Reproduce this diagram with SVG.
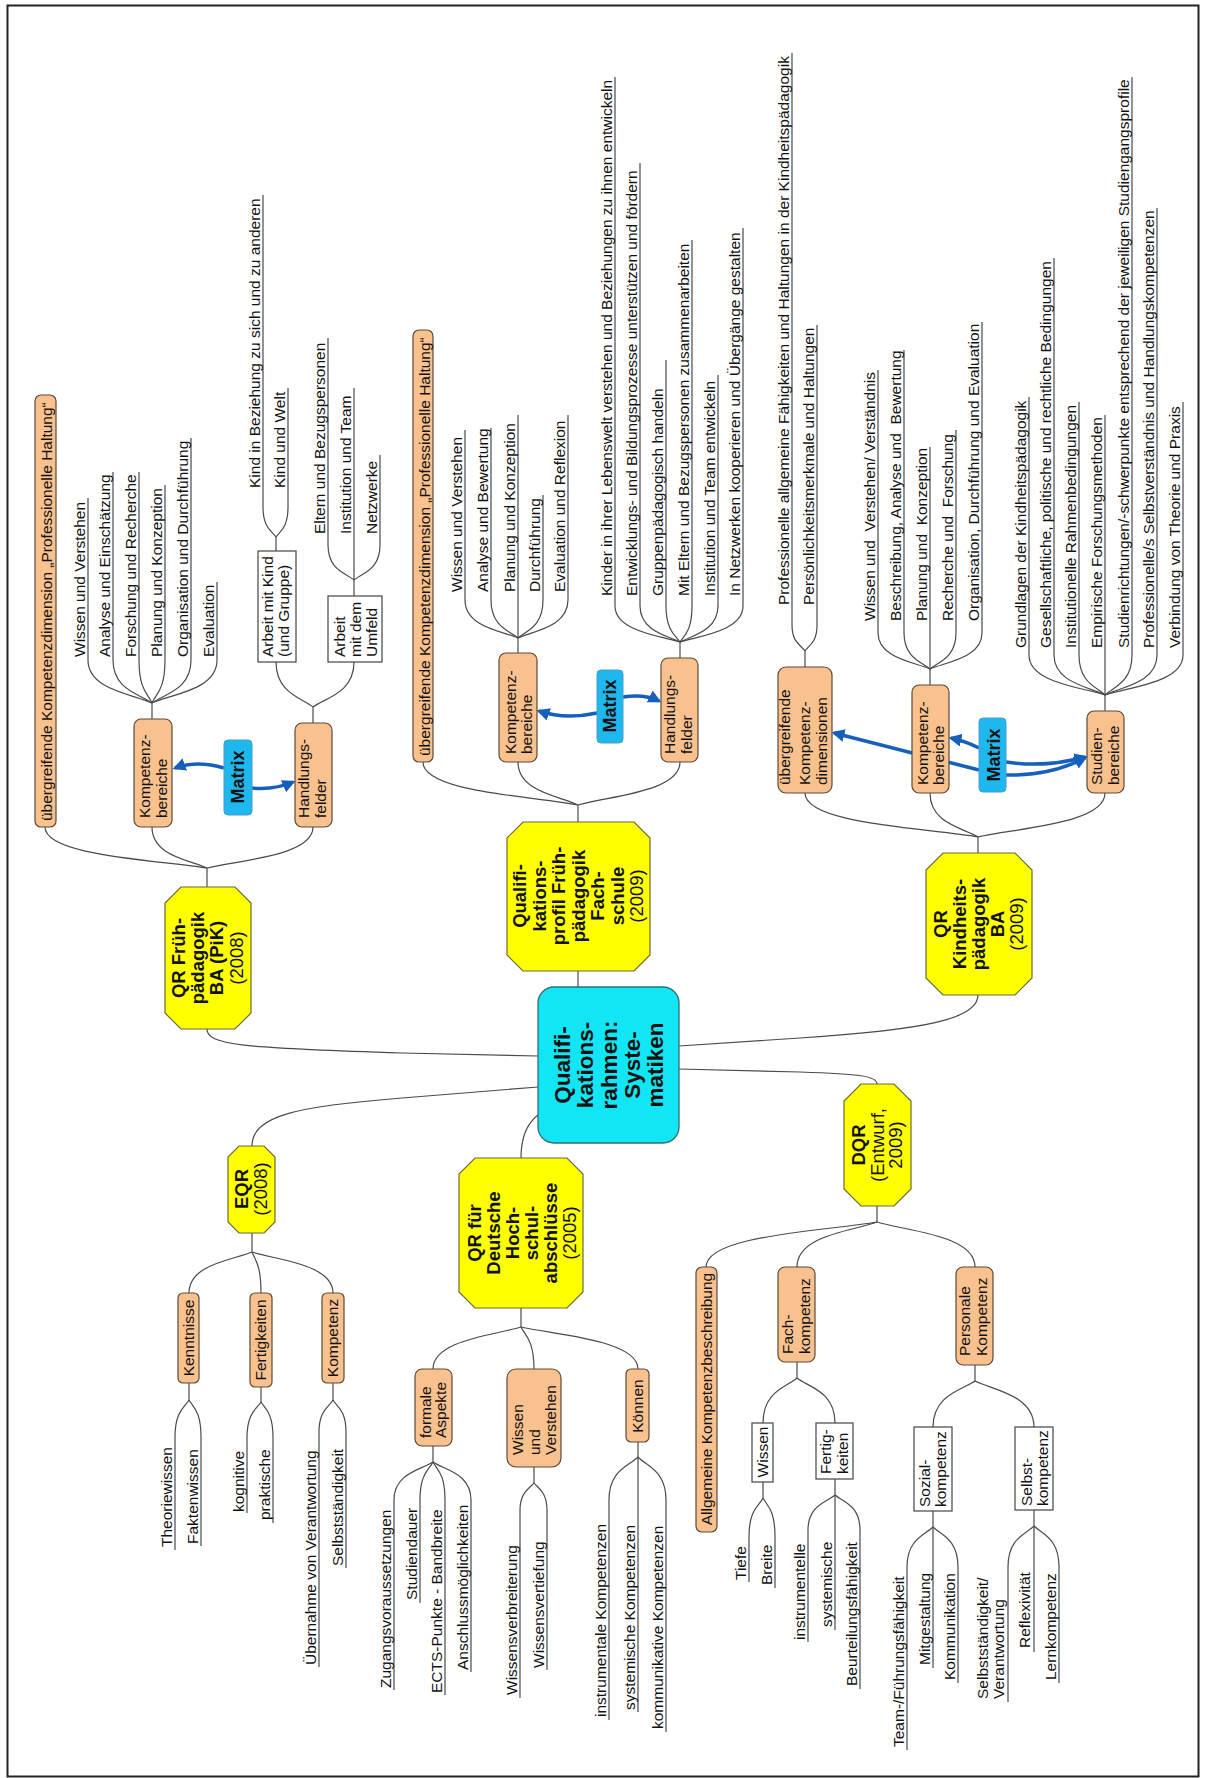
<svg xmlns="http://www.w3.org/2000/svg" width="1205" height="1778" viewBox="0 0 1205 1778">
<style>
text{font-family:"Liberation Sans",Arial,Helvetica,sans-serif;fill:#111}
.t{font-size:15.5px}
.b{font-size:18.5px;font-weight:bold}
.y{font-size:18.5px}
.cb{font-size:22.5px;font-weight:bold}
.mt{font-size:18px;font-weight:bold}
.ln{fill:none;stroke:#4a4a4a;stroke-width:1.2}
.or{fill:#F9C18D;stroke:#5c4a38;stroke-width:1.2}
.oct{fill:#FFFF00;stroke:#6b6b3a;stroke-width:1.2}
.wb{fill:#fff;stroke:#444;stroke-width:1.2}
.mx{fill:#1EB7EE;stroke:#4a9cc9;stroke-width:1}
.ar{fill:none;stroke:#1560BD;stroke-width:3.5;marker-end:url(#ah)}
</style>
<defs>
<marker id="ah" viewBox="0 0 10 10" refX="8" refY="5" markerWidth="13" markerHeight="13" markerUnits="userSpaceOnUse" orient="auto"><path d="M0,0 L10,5 L0,10 z" fill="#1560BD"/></marker>
</defs>
<rect x="0" y="0" width="1205" height="1778" fill="#fff"/>
<rect x="7.5" y="5.5" width="1191" height="1771" fill="none" stroke="#222" stroke-width="2"/>

<g id="connectors" class="ln">
<path d="M207,1029 C207,1045 240,1048 402,1053 L538,1056"/>
<path d="M538,1087 L402,1098 C300,1106 252,1115 252,1146"/>
<path d="M538,1115 C525,1125 521,1140 521,1158"/>
<path d="M578,971 L578,987"/>
<path d="M679,1046 L800,1038 C920,1030 978,1020 978,995"/>
<path d="M679,1069 L800,1072 C860,1074 877,1076 877,1084"/>
<!-- group 1 -->
<path d="M207,887 L207,868"/>
<path d="M45,827 C45,856 158,860 207,868"/>
<path d="M152,827 C152,856 190,860 207,868"/>
<path d="M313,827 C313,856 239,860 207,868"/>
<path d="M152,719 L152,703"/>
<path d="M88,498 L88,660 C88,690 133,694 152,703"/>
<path d="M113,472 L113,660 C113,690 140,694 152,703"/>
<path d="M139,472 L139,660 C139,690 148,694 152,703"/>
<path d="M165,485 L165,660 C165,690 156,694 152,703"/>
<path d="M191,438 L191,660 C191,690 164,694 152,703"/>
<path d="M217,582 L217,660 C217,690 172,694 152,703"/>
<path d="M313,723 L313,707"/>
<path d="M276,662 C276,693 302,698 313,707"/>
<path d="M354,662 C354,693 325,698 313,707"/>
<path d="M276,551 L276,537"/>
<path d="M263,195 L263,507 C263,528 272,531 276,537"/>
<path d="M288,388 L288,507 C288,528 280,531 276,537"/>
<path d="M354,596 L354,580"/>
<path d="M328,338 L328,545 C328,570 346,573 354,580"/>
<path d="M354,388 L354,580"/>
<path d="M380,455 L380,545 C380,570 362,573 354,580"/>
<!-- group 2 -->
<path d="M578,822 L578,805"/>
<path d="M423,762 C423,792 531,796 578,805"/>
<path d="M518,762 C518,792 560,796 578,805"/>
<path d="M680,762 C680,792 609,796 578,805"/>
<path d="M518,653 L518,638"/>
<path d="M465,430 L465,600 C465,627 502,631 518,638"/>
<path d="M491,428 L491,600 C491,627 510,631 518,638"/>
<path d="M518,415 L518,638"/>
<path d="M543,495 L543,600 C543,627 526,631 518,638"/>
<path d="M568,415 L568,600 C568,627 533,631 518,638"/>
<path d="M680,658 L680,642"/>
<path d="M615,77 L615,606 C615,631 660,636 680,642"/>
<path d="M640,163 L640,606 C640,631 668,636 680,642"/>
<path d="M666,360 L666,606 C666,631 676,636 680,642"/>
<path d="M692,240 L692,606 C692,631 684,636 680,642"/>
<path d="M718,375 L718,606 C718,631 691,636 680,642"/>
<path d="M743,228 L743,606 C743,631 699,636 680,642"/>
<!-- group 3 -->
<path d="M978,853 L978,837"/>
<path d="M805,793 C805,824 926,828 978,837"/>
<path d="M930,793 C930,824 964,828 978,837"/>
<path d="M1105,793 C1105,824 1016,828 978,837"/>
<path d="M805,667 L805,651"/>
<path d="M792,53 L792,625 C792,643 801,645 805,651"/>
<path d="M817,325 L817,625 C817,643 809,645 805,651"/>
<path d="M930,685 L930,669"/>
<path d="M878,370 L878,633 C878,658 914,662 930,669"/>
<path d="M904,350 L904,633 C904,658 922,662 930,669"/>
<path d="M930,447 L930,669"/>
<path d="M956,430 L956,633 C956,658 938,662 930,669"/>
<path d="M982,322 L982,633 C982,658 946,662 930,669"/>
<path d="M1105,711 L1105,695"/>
<path d="M1029,397 L1029,655 C1029,683 1082,687 1105,695"/>
<path d="M1054,258 L1054,655 C1054,683 1090,687 1105,695"/>
<path d="M1079,402 L1079,655 C1079,683 1097,687 1105,695"/>
<path d="M1105,415 L1105,695"/>
<path d="M1132,77 L1132,655 C1132,683 1113,687 1105,695"/>
<path d="M1157,208 L1157,655 C1157,683 1121,687 1105,695"/>
<path d="M1183,402 L1183,655 C1183,683 1128,687 1105,695"/>
<!-- EQR -->
<path d="M252,1233 L252,1252"/>
<path d="M252,1252 C233,1260 189,1264 189,1293"/>
<path d="M252,1252 C255,1260 261,1264 261,1293"/>
<path d="M252,1252 C276,1260 333,1264 333,1293"/>
<path d="M189,1383 L189,1400"/>
<path d="M189,1400 C185,1407 175,1411 175,1437 L175,1550"/>
<path d="M189,1400 C193,1407 201,1411 201,1437 L201,1546"/>
<path d="M261,1387 L261,1402"/>
<path d="M261,1402 C257,1409 247,1412 247,1438 L247,1513"/>
<path d="M261,1402 C265,1409 273,1412 273,1438 L273,1523"/>
<path d="M333,1383 L333,1400"/>
<path d="M333,1400 C329,1407 319,1410 319,1432 L319,1667"/>
<path d="M333,1400 C337,1407 346,1410 346,1432 L346,1568"/>
<!-- QR Deutsche -->
<path d="M521,1308 L521,1327"/>
<path d="M521,1327 C495,1335 433,1340 433,1369"/>
<path d="M521,1327 C525,1335 534,1340 534,1369"/>
<path d="M521,1327 C556,1335 638,1340 638,1369"/>
<path d="M433,1446 L433,1462"/>
<path d="M433,1462 C421,1470 394,1473 394,1500 L394,1690"/>
<path d="M433,1462 C429,1470 420,1473 420,1500 L420,1603"/>
<path d="M433,1462 C437,1470 445,1473 445,1500 L445,1695"/>
<path d="M433,1462 C444,1470 471,1473 471,1500 L471,1672"/>
<path d="M534,1467 L534,1483"/>
<path d="M534,1483 C530,1488 520,1492 520,1510 L520,1698"/>
<path d="M534,1483 C538,1488 547,1492 547,1510 L547,1670"/>
<path d="M638,1442 L638,1457"/>
<path d="M638,1457 C629,1466 609,1470 609,1500 L609,1720"/>
<path d="M638,1457 L638,1712"/>
<path d="M638,1457 C646,1466 666,1470 666,1500 L666,1732"/>
<!-- DQR -->
<path d="M877,1206 L877,1222"/>
<path d="M877,1222 C826,1231 706,1235 706,1267"/>
<path d="M877,1222 C853,1231 797,1235 797,1267"/>
<path d="M877,1222 C906,1231 975,1235 975,1267"/>
<path d="M797,1362 L797,1378"/>
<path d="M797,1378 C787,1387 763,1391 763,1423"/>
<path d="M797,1378 C808,1387 835,1391 835,1423"/>
<path d="M763,1482 L763,1498"/>
<path d="M763,1498 C759,1506 749,1509 749,1537 L749,1582"/>
<path d="M763,1498 C767,1506 775,1509 775,1537 L775,1588"/>
<path d="M835,1479 L835,1495"/>
<path d="M835,1495 C827,1502 808,1505 808,1530 L808,1642"/>
<path d="M835,1495 L835,1630"/>
<path d="M835,1495 C843,1502 860,1505 860,1530 L860,1689"/>
<path d="M975,1365 L975,1381"/>
<path d="M975,1381 C962,1390 933,1395 933,1427"/>
<path d="M975,1381 C993,1390 1034,1395 1034,1427"/>
<path d="M933,1511 L933,1527"/>
<path d="M933,1527 C925,1535 907,1539 907,1567 L907,1750"/>
<path d="M933,1527 L933,1668"/>
<path d="M933,1527 C941,1535 958,1539 958,1567 L958,1683"/>
<path d="M1034,1510 L1034,1526"/>
<path d="M1034,1526 C1026,1534 1008,1538 1008,1567 L1008,1702"/>
<path d="M1034,1526 L1034,1652"/>
<path d="M1034,1526 C1042,1534 1059,1538 1059,1567 L1059,1683"/>
<!-- matrix arrows -->
<path class="ar" d="M224,768 Q197,760 175,768"/>
<path class="ar" d="M252,788 Q275,790 293,782"/>
<path class="ar" d="M597,713 Q565,720 539,711"/>
<path class="ar" d="M623,697 Q645,694 659,701"/>
<path class="ar" d="M979,748 Q965,741 951,738"/>
<path class="ar" d="M979,770 L834,733"/>
<path class="ar" d="M1006,762 Q1045,768 1085,757"/>
<path class="ar" d="M1006,775 Q1050,776 1085,758"/>
</g>

<!-- center -->
<g id="center">
<rect x="538" y="987" width="141" height="156" rx="16" fill="#12E6F4" stroke="#2f6f78" stroke-width="1.3"/>
<g transform="translate(0,1065) rotate(-90)"><text class="cb" text-anchor="middle"><tspan x="0" y="570">Qualifi-</tspan><tspan x="0" y="593">kations-</tspan><tspan x="0" y="617">rahmen:</tspan><tspan x="0" y="640">Syste-</tspan><tspan x="0" y="663">matiken</tspan></text></g>
</g>

<!-- octagons -->
<g id="qr-fruehpaed">
<polygon class="oct" points="181,887 235,887 251,903 251,1013 235,1029 181,1029 165,1013 165,903"/>
<g transform="translate(0,958) rotate(-90)"><text text-anchor="middle"><tspan class="b" x="0" y="185">QR Früh-</tspan><tspan class="b" x="0" y="204">pädagogik</tspan><tspan class="b" x="0" y="223">BA (PiK)</tspan><tspan class="y" x="0" y="243">(2008)</tspan></text></g>
</g>
<g id="qualiprofil">
<polygon class="oct" points="523,822 634,822 650,838 650,955 634,971 523,971 507,955 507,838"/>
<g transform="translate(0,896) rotate(-90)"><text text-anchor="middle"><tspan class="b" x="0" y="526">Qualifi-</tspan><tspan class="b" x="0" y="545.5">kations-</tspan><tspan class="b" x="0" y="565">profil Früh-</tspan><tspan class="b" x="0" y="584.5">pädagogik</tspan><tspan class="b" x="0" y="604">Fach-</tspan><tspan class="b" x="0" y="623.5">schule</tspan><tspan class="y" x="0" y="643">(2009)</tspan></text></g>
</g>
<g id="qr-kindheit">
<polygon class="oct" points="943,853 1015,853 1032,870 1032,978 1015,995 943,995 926,978 926,870"/>
<g transform="translate(0,924) rotate(-90)"><text text-anchor="middle"><tspan class="b" x="0" y="947">QR</tspan><tspan class="b" x="0" y="966">Kindheits-</tspan><tspan class="b" x="0" y="985">pädagogik</tspan><tspan class="b" x="0" y="1004">BA</tspan><tspan class="y" x="0" y="1023">(2009)</tspan></text></g>
</g>
<g id="eqr">
<polygon class="oct" points="239,1146 264,1146 275,1157 275,1222 264,1233 239,1233 228,1222 228,1157"/>
<g transform="translate(0,1189) rotate(-90)"><text text-anchor="middle"><tspan class="b" x="0" y="248">EQR</tspan><tspan class="y" x="0" y="267">(2008)</tspan></text></g>
</g>
<g id="qr-hochschule">
<polygon class="oct" points="475,1158 567,1158 583,1174 583,1292 567,1308 475,1308 459,1292 459,1174"/>
<g transform="translate(0,1233) rotate(-90)"><text text-anchor="middle"><tspan class="b" x="0" y="481">QR für</tspan><tspan class="b" x="0" y="500">Deutsche</tspan><tspan class="b" x="0" y="519">Hoch-</tspan><tspan class="b" x="0" y="538">schul-</tspan><tspan class="b" x="0" y="557">abschlüsse</tspan><tspan class="y" x="0" y="576">(2005)</tspan></text></g>
</g>
<g id="dqr">
<polygon class="oct" points="861,1084 894,1084 911,1101 911,1189 894,1206 861,1206 844,1189 844,1101"/>
<g transform="translate(0,1145) rotate(-90)"><text text-anchor="middle"><tspan class="b" x="0" y="865">DQR</tspan><tspan class="y" x="0" y="884">(Entwurf,</tspan><tspan class="y" x="0" y="902">2009)</tspan></text></g>
</g>

<!-- group 1 nodes -->
<g id="g1-uebergreifend">
<rect class="or" x="35" y="395" width="21" height="432" rx="6"/>
<text class="t" transform="translate(52,821) rotate(-90)">übergreifende Kompetenzdimension „Professionelle Haltung“</text>
</g>
<g id="g1-kompetenz">
<rect class="or" x="134" y="719" width="38" height="108" rx="7"/>
<g transform="translate(0,818) rotate(-90)"><text class="t"><tspan x="0" y="150">Kompetenz-</tspan><tspan x="0" y="167">bereiche</tspan></text></g>
</g>
<g id="g1-handlung">
<rect class="or" x="295" y="723" width="37" height="104" rx="7"/>
<g transform="translate(0,818) rotate(-90)"><text class="t"><tspan x="0" y="309">Handlungs-</tspan><tspan x="0" y="326">felder</tspan></text></g>
</g>
<g id="g1-matrix">
<rect class="mx" x="224" y="740" width="28" height="75" rx="4"/>
<text class="mt" text-anchor="middle" transform="translate(244,777) rotate(-90)">Matrix</text>
</g>
<g id="g1-arbeit-kind">
<rect class="wb" x="258" y="551" width="38" height="111"/>
<g transform="translate(0,657) rotate(-90)"><text class="t"><tspan x="0" y="273">Arbeit mit Kind</tspan><tspan x="0" y="289">(und Gruppe)</tspan></text></g>
</g>
<g id="g1-arbeit-umfeld">
<rect class="wb" x="328" y="596" width="54" height="66"/>
<g transform="translate(0,657) rotate(-90)"><text class="t"><tspan x="0" y="345">Arbeit</tspan><tspan x="0" y="361">mit dem</tspan><tspan x="0" y="377">Umfeld</tspan></text></g>
</g>
<g id="g1-leaves" class="t">
<text class="t" transform="translate(85,657) rotate(-90)">Wissen und Verstehen</text>
<text class="t" transform="translate(110,657) rotate(-90)">Analyse und Einschätzung</text>
<text class="t" transform="translate(136,657) rotate(-90)">Forschung und Recherche</text>
<text class="t" transform="translate(162,657) rotate(-90)">Planung und Konzeption</text>
<text class="t" transform="translate(188,657) rotate(-90)">Organisation und Durchführung</text>
<text class="t" transform="translate(214,657) rotate(-90)">Evaluation</text>
<text class="t" transform="translate(260,488) rotate(-90)">Kind in Beziehung zu sich und zu anderen</text>
<text class="t" transform="translate(285,488) rotate(-90)">Kind und Welt</text>
<text class="t" transform="translate(325,534) rotate(-90)">Eltern und Bezugspersonen</text>
<text class="t" transform="translate(351,534) rotate(-90)">Institution und Team</text>
<text class="t" transform="translate(377,534) rotate(-90)">Netzwerke</text>
</g>

<!-- group 2 nodes -->
<g id="g2-uebergreifend">
<rect class="or" x="413" y="330" width="20" height="432" rx="6"/>
<text class="t" transform="translate(430,756) rotate(-90)">übergreifende Kompetenzdimension „Professionelle Haltung“</text>
</g>
<g id="g2-kompetenz">
<rect class="or" x="499" y="653" width="38" height="109" rx="7"/>
<g transform="translate(0,754) rotate(-90)"><text class="t"><tspan x="0" y="516">Kompetenz-</tspan><tspan x="0" y="532">bereiche</tspan></text></g>
</g>
<g id="g2-handlung">
<rect class="or" x="661" y="658" width="37" height="104" rx="7"/>
<g transform="translate(0,754) rotate(-90)"><text class="t"><tspan x="0" y="675">Handlungs-</tspan><tspan x="0" y="692">felder</tspan></text></g>
</g>
<g id="g2-matrix">
<rect class="mx" x="597" y="670" width="26" height="73" rx="4"/>
<text class="mt" text-anchor="middle" transform="translate(616,706) rotate(-90)">Matrix</text>
</g>
<g id="g2-leaves">
<text class="t" transform="translate(462,592) rotate(-90)">Wissen und Verstehen</text>
<text class="t" transform="translate(488,592) rotate(-90)">Analyse und Bewertung</text>
<text class="t" transform="translate(515,592) rotate(-90)">Planung und Konzeption</text>
<text class="t" transform="translate(540,592) rotate(-90)">Durchführung</text>
<text class="t" transform="translate(565,592) rotate(-90)">Evaluation und Reflexion</text>
<text class="t" transform="translate(612,596) rotate(-90)">Kinder in ihrer Lebenswelt verstehen und Beziehungen zu ihnen entwickeln</text>
<text class="t" transform="translate(637,596) rotate(-90)">Entwicklungs- und Bildungsprozesse unterstützen und fördern</text>
<text class="t" transform="translate(663,596) rotate(-90)">Gruppenpädagogisch handeln</text>
<text class="t" transform="translate(689,596) rotate(-90)">Mit Eltern und Bezugspersonen zusammenarbeiten</text>
<text class="t" transform="translate(715,596) rotate(-90)">Institution und Team entwickeln</text>
<text class="t" transform="translate(740,596) rotate(-90)">In Netzwerken kooperieren und Übergänge gestalten</text>
</g>

<!-- group 3 nodes -->
<g id="g3-uebergreifend">
<rect class="or" x="778" y="667" width="54" height="126" rx="8"/>
<g transform="translate(0,785) rotate(-90)"><text class="t"><tspan x="0" y="790">übergreifende</tspan><tspan x="0" y="810">Kompetenz-</tspan><tspan x="0" y="827">dimensionen</tspan></text></g>
</g>
<g id="g3-kompetenz">
<rect class="or" x="912" y="685" width="37" height="108" rx="7"/>
<g transform="translate(0,785) rotate(-90)"><text class="t"><tspan x="0" y="928">Kompetenz-</tspan><tspan x="0" y="944">bereiche</tspan></text></g>
</g>
<g id="g3-studien">
<rect class="or" x="1087" y="711" width="37" height="82" rx="7"/>
<g transform="translate(0,785) rotate(-90)"><text class="t"><tspan x="0" y="1102">Studien-</tspan><tspan x="0" y="1119">bereiche</tspan></text></g>
</g>
<g id="g3-matrix">
<rect class="mx" x="979" y="718" width="27" height="74" rx="4"/>
<text class="mt" text-anchor="middle" transform="translate(1000,755) rotate(-90)">Matrix</text>
</g>
<g id="g3-leaves">
<text class="t" transform="translate(789,605) rotate(-90)">Professionelle allgemeine Fähigkeiten und Haltungen in der Kindheitspädagogik</text>
<text class="t" transform="translate(814,605) rotate(-90)">Persönlichkeitsmerkmale und Haltungen</text>
<text class="t" transform="translate(875,621) rotate(-90)">Wissen und&#160; Verstehen/ Verständnis</text>
<text class="t" transform="translate(901,621) rotate(-90)">Beschreibung, Analyse und&#160; Bewertung</text>
<text class="t" transform="translate(927,621) rotate(-90)">Planung und&#160; Konzeption</text>
<text class="t" transform="translate(953,621) rotate(-90)">Recherche und&#160; Forschung</text>
<text class="t" transform="translate(979,621) rotate(-90)">Organisation, Durchführung und Evaluation</text>
<text class="t" transform="translate(1026,648) rotate(-90)">Grundlagen der Kindheitspädagogik</text>
<text class="t" transform="translate(1051,648) rotate(-90)">Gesellschaftliche, politische und rechtliche Bedingungen</text>
<text class="t" transform="translate(1076,648) rotate(-90)">Institutionelle Rahmenbedingungen</text>
<text class="t" transform="translate(1102,648) rotate(-90)">Empirische Forschungsmethoden</text>
<text class="t" transform="translate(1129,648) rotate(-90)">Studienrichtungen/-schwerpunkte entsprechend der jeweiligen Studiengangsprofile</text>
<text class="t" transform="translate(1154,648) rotate(-90)">Professionelle/s Selbstverständnis und Handlungskompetenzen</text>
<text class="t" transform="translate(1180,648) rotate(-90)">Verbindung von Theorie und Praxis</text>
</g>

<!-- EQR children -->
<g id="eqr-kenntnisse">
<rect class="or" x="178" y="1293" width="21" height="90" rx="5"/>
<text class="t" text-anchor="middle" transform="translate(194,1338) rotate(-90)">Kenntnisse</text>
</g>
<g id="eqr-fertigkeiten">
<rect class="or" x="250" y="1293" width="22" height="94" rx="5"/>
<text class="t" text-anchor="middle" transform="translate(266,1340) rotate(-90)">Fertigkeiten</text>
</g>
<g id="eqr-kompetenz">
<rect class="or" x="322" y="1293" width="22" height="90" rx="5"/>
<text class="t" text-anchor="middle" transform="translate(338,1338) rotate(-90)">Kompetenz</text>
</g>
<g id="eqr-leaves">
<text class="t" transform="translate(172,1547) rotate(-90)">Theoriewissen</text>
<text class="t" transform="translate(198,1544) rotate(-90)">Faktenwissen</text>
<text class="t" transform="translate(244,1512) rotate(-90)">kognitive</text>
<text class="t" transform="translate(270,1520) rotate(-90)">praktische</text>
<text class="t" transform="translate(316,1665) rotate(-90)">Übernahme von Verantwortung</text>
<text class="t" transform="translate(343,1566) rotate(-90)">Selbstständigkeit</text>
</g>

<!-- QR Hochschule children -->
<g id="hs-formale">
<rect class="or" x="415" y="1369" width="37" height="77" rx="7"/>
<g transform="translate(0,1438) rotate(-90)"><text class="t"><tspan x="0" y="431">formale</tspan><tspan x="0" y="446">Aspekte</tspan></text></g>
</g>
<g id="hs-wissen">
<rect class="or" x="507" y="1369" width="54" height="98" rx="9"/>
<g transform="translate(0,1455) rotate(-90)"><text class="t"><tspan x="0" y="523">Wissen</tspan><tspan x="0" y="540">und</tspan><tspan x="0" y="556">Verstehen</tspan></text></g>
</g>
<g id="hs-koennen">
<rect class="or" x="626" y="1369" width="23" height="73" rx="5"/>
<text class="t" text-anchor="middle" transform="translate(643,1406) rotate(-90)">Können</text>
</g>
<g id="hs-leaves">
<text class="t" transform="translate(391,1688) rotate(-90)">Zugangsvoraussetzungen</text>
<text class="t" transform="translate(417,1600) rotate(-90)">Studiendauer</text>
<text class="t" transform="translate(442,1693) rotate(-90)">ECTS-Punkte - Bandbreite</text>
<text class="t" transform="translate(468,1670) rotate(-90)">Anschlussmöglichkeiten</text>
<text class="t" transform="translate(517,1695) rotate(-90)">Wissensverbreiterung</text>
<text class="t" transform="translate(544,1668) rotate(-90)">Wissensvertiefung</text>
<text class="t" transform="translate(606,1717) rotate(-90)">instrumentale Kompetenzen</text>
<text class="t" transform="translate(635,1710) rotate(-90)">systemische Kompetenzen</text>
<text class="t" transform="translate(663,1729) rotate(-90)">kommunikative Kompetenzen</text>
</g>

<!-- DQR children -->
<g id="dqr-allgemein">
<rect class="or" x="696" y="1267" width="21" height="265" rx="6"/>
<text class="t" text-anchor="middle" transform="translate(712,1399) rotate(-90)">Allgemeine Kompetenzbeschreibung</text>
</g>
<g id="dqr-fach">
<rect class="or" x="778" y="1267" width="37" height="95" rx="7"/>
<g transform="translate(0,1354) rotate(-90)"><text class="t"><tspan x="0" y="793">Fach-</tspan><tspan x="0" y="810">kompetenz</tspan></text></g>
</g>
<g id="dqr-personal">
<rect class="or" x="956" y="1267" width="37" height="98" rx="7"/>
<g transform="translate(0,1356) rotate(-90)"><text class="t"><tspan x="0" y="970">Personale</tspan><tspan x="0" y="987">Kompetenz</tspan></text></g>
</g>
<g id="dqr-wissen">
<rect class="wb" x="752" y="1423" width="21" height="59"/>
<text class="t" text-anchor="middle" transform="translate(768,1452) rotate(-90)">Wissen</text>
</g>
<g id="dqr-fertigkeiten">
<rect class="wb" x="816" y="1423" width="37" height="56"/>
<g transform="translate(0,1474) rotate(-90)"><text class="t"><tspan x="0" y="831">Fertig-</tspan><tspan x="0" y="848">keiten</tspan></text></g>
</g>
<g id="dqr-sozial">
<rect class="wb" x="914" y="1427" width="38" height="84"/>
<g transform="translate(0,1507) rotate(-90)"><text class="t"><tspan x="0" y="930">Sozial-</tspan><tspan x="0" y="946">kompetenz</tspan></text></g>
</g>
<g id="dqr-selbst">
<rect class="wb" x="1015" y="1427" width="38" height="83"/>
<g transform="translate(0,1506) rotate(-90)"><text class="t"><tspan x="0" y="1032">Selbst-</tspan><tspan x="0" y="1048">kompetenz</tspan></text></g>
</g>
<g id="dqr-leaves">
<text class="t" transform="translate(746,1580) rotate(-90)">Tiefe</text>
<text class="t" transform="translate(772,1585) rotate(-90)">Breite</text>
<text class="t" transform="translate(805,1640) rotate(-90)">instrumentelle</text>
<text class="t" transform="translate(832,1627) rotate(-90)">systemische</text>
<text class="t" transform="translate(857,1686) rotate(-90)">Beurteilungsfähigkeit</text>
<text class="t" transform="translate(904,1747) rotate(-90)">Team-/Führungsfähigkeit</text>
<text class="t" transform="translate(930,1665) rotate(-90)">Mitgestaltung</text>
<text class="t" transform="translate(955,1680) rotate(-90)">Kommunikation</text>
<g transform="translate(0,1699) rotate(-90)"><text class="t"><tspan x="0" y="988">Selbstständigkeit/</tspan><tspan x="0" y="1004">Verantwortung</tspan></text></g>
<text class="t" transform="translate(1030,1648) rotate(-90)">Reflexivität</text>
<text class="t" transform="translate(1056,1680) rotate(-90)">Lernkompetenz</text>
</g>
</svg>
